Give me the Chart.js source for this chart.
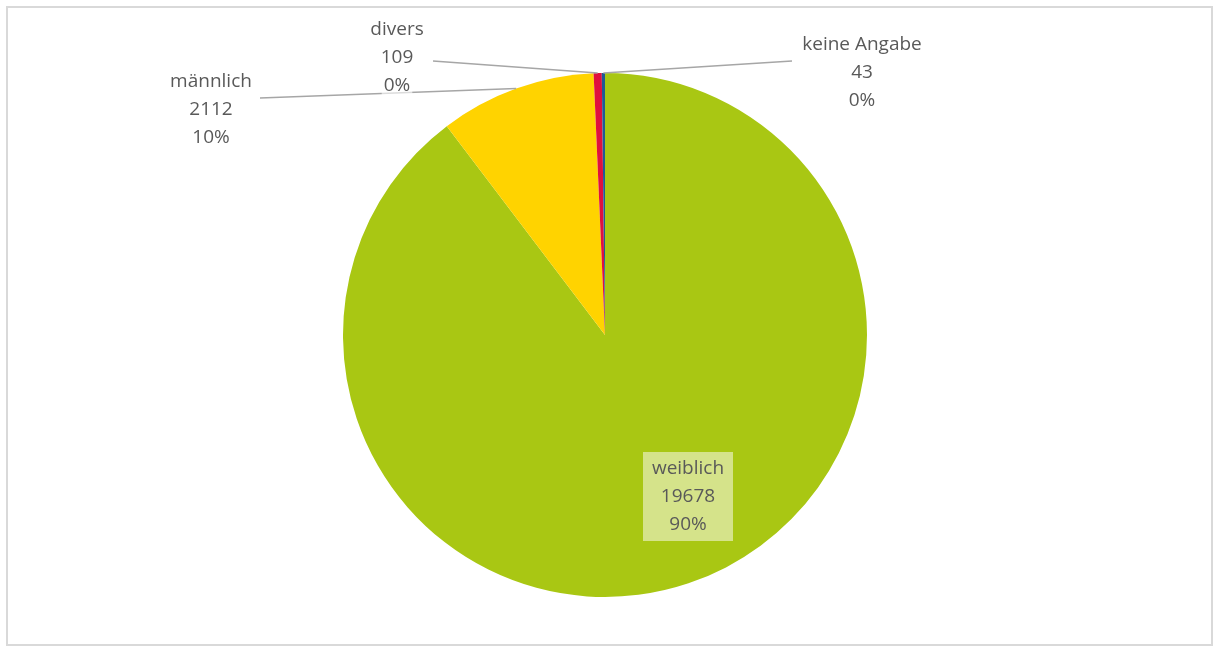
<!DOCTYPE html>
<html>
<head>
<meta charset="utf-8">
<script src="https://cdn.jsdelivr.net/npm/chart.js@4"></script>
<style>
  html, body { margin: 0; padding: 0; background: #fff; }
  #wrap { position: relative; width: 1213px; height: 646px; }
</style>
</head>
<body>
<div id="wrap"><canvas id="genderChart" width="1213" height="646"></canvas></div>
<script>
const categories = ["weiblich", "männlich", "divers", "keine Angabe"];
const counts = [19678, 2112, 109, 43];
const sliceColors = ["#A9C713", "#FFD300", "#E0103E", "#1F5A96"];

// where the labels sit (text block centre) and where their leader lines start
const labelSpots = [
    { x: 688, y: 469, box: true },
    { x: 211, y: 82, lineFrom: { x: 260, y: 98 } },
    { x: 397, y: 30, lineFrom: { x: 433, y: 61 } },
    { x: 862, y: 45, lineFrom: { x: 792, y: 61 } }
];

const total = counts.reduce(function (a, b) { return a + b; }, 0);

const frame = {
    id: "frame",
    beforeDraw: function (chart) {
        const c = chart.ctx;
        c.save();
        c.strokeStyle = "#D9D9D9";
        c.lineWidth = 2;
        c.strokeRect(7, 7, 1205, 638);
        c.restore();
    }
};

const pieLabels = {
    id: "pieLabels",
    afterDatasetsDraw: function (chart) {
        const c = chart.ctx;
        const arcs = chart.getDatasetMeta(0).data;
        c.save();
        c.font = "19px 'Open Sans'";
        c.textAlign = "center";
        c.textBaseline = "middle";

        // leader lines first
        labelSpots.forEach(function (spot, i) {
            if (!spot.lineFrom) return;
            const a = arcs[i];
            const mid = (a.startAngle + a.endAngle) / 2;
            const ex = a.x + Math.cos(mid) * a.outerRadius;
            const ey = a.y + Math.sin(mid) * a.outerRadius;
            c.strokeStyle = "#A6A6A6";
            c.lineWidth = 1.5;
            c.beginPath();
            c.moveTo(spot.lineFrom.x, spot.lineFrom.y);
            c.lineTo(ex, ey);
            c.stroke();
        });

        labelSpots.forEach(function (spot, i) {
            const lines = [
                categories[i],
                String(counts[i]),
                Math.round(counts[i] / total * 100) + "%"
            ];
            if (spot.box) {
                c.fillStyle = "#D5E38A";
                c.fillRect(spot.x - 45, spot.y - 17, 90, 89);
            } else {
                c.fillStyle = "rgba(255,255,255,0.6)";
                lines.forEach(function (t, k) {
                    const w = c.measureText(t).width;
                    c.fillRect(spot.x - w / 2 - 2, spot.y + k * 28 - 11, w + 4, 22);
                });
            }
            c.fillStyle = "#595959";
            lines.forEach(function (t, k) {
                c.fillText(t, spot.x, spot.y + k * 28);
            });
        });
        c.restore();
    }
};

new Chart(document.getElementById("genderChart").getContext("2d"), {
    type: "pie",
    data: {
        labels: categories,
        datasets: [{
            data: counts,
            backgroundColor: sliceColors,
            borderWidth: 0
        }]
    },
    options: {
        responsive: false,
        animation: false,
        layout: { padding: { top: 73, bottom: 49, left: 0, right: 3 } },
        plugins: {
            legend: { display: false },
            tooltip: { enabled: false }
        }
    },
    plugins: [frame, pieLabels]
});
</script>
</body>
</html>
